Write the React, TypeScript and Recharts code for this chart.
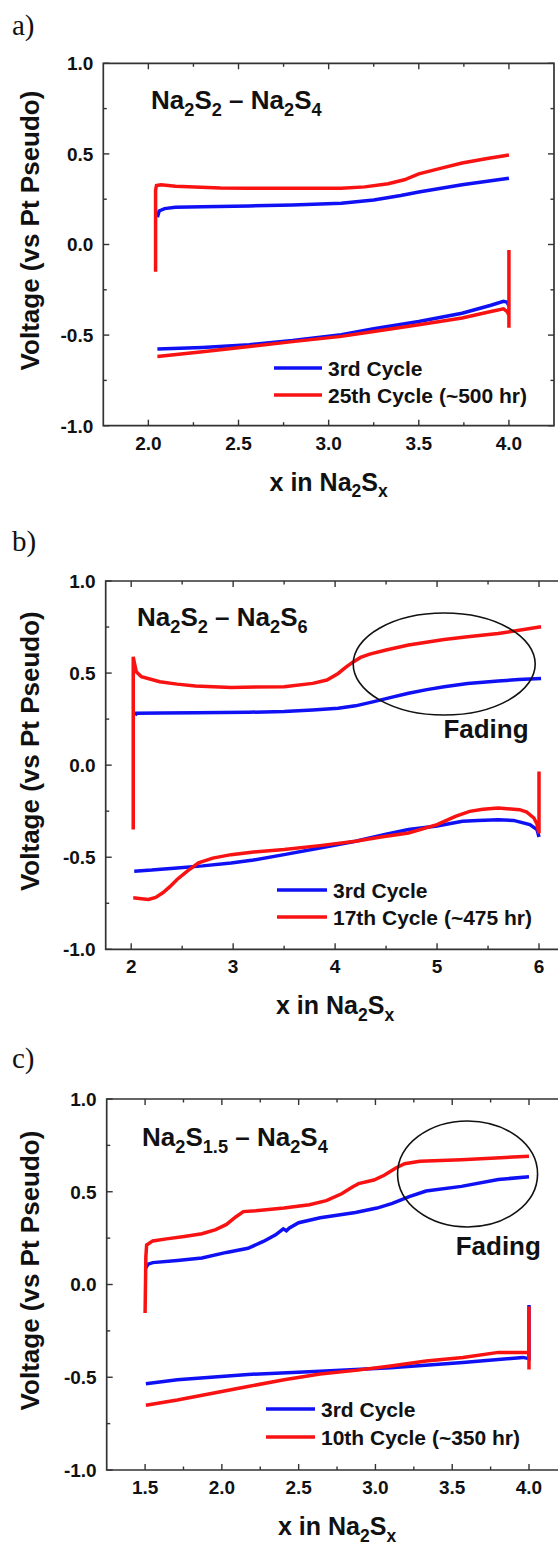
import React from 'react';
import { LineChart, Line, XAxis, YAxis, ReferenceDot, ReferenceArea, ReferenceLine } from 'recharts';

const FONT = '"Liberation Sans", Arial, Helvetica, sans-serif';
const SERIF = '"Liberation Serif", "Times New Roman", serif';
const BLUE = '#1010f5';
const RED = '#f81212';
const AXIS = '#333333';

type Pt = [number, number];

// panel a: Na2S2 - Na2S4
const aBlueCharge: Pt[] = [[2.05, 0.15], [2.06, 0.185], [2.09, 0.198], [2.15, 0.205], [2.3, 0.208], [2.56, 0.213], [2.8, 0.218], [3.07, 0.228], [3.25, 0.246], [3.4, 0.27], [3.5, 0.29], [3.74, 0.33], [3.9, 0.352], [4.0, 0.366]];
const aRedCharge: Pt[] = [[2.04, -0.15], [2.04, 0.3], [2.045, 0.325], [2.07, 0.33], [2.15, 0.322], [2.4, 0.312], [2.56, 0.31], [3.07, 0.31], [3.2, 0.318], [3.33, 0.335], [3.42, 0.357], [3.5, 0.39], [3.62, 0.42], [3.74, 0.45], [3.88, 0.475], [4.0, 0.494]];
const aBlueDis: Pt[] = [[4.0, -0.34], [3.99, -0.318], [3.97, -0.313], [3.9, -0.335], [3.74, -0.379], [3.5, -0.425], [3.25, -0.465], [3.07, -0.498], [2.8, -0.53], [2.56, -0.553], [2.3, -0.568], [2.05, -0.577]];
const aRedDis: Pt[] = [[4.0, -0.03], [4.0, -0.46], [4.0, -0.39], [3.99, -0.37], [3.97, -0.355], [3.9, -0.37], [3.74, -0.406], [3.5, -0.443], [3.25, -0.48], [3.07, -0.507], [2.8, -0.536], [2.56, -0.563], [2.3, -0.592], [2.05, -0.618]];

// panel b: Na2S2 - Na2S6
const bBlueCharge: Pt[] = [[2.04, 0.27], [2.05, 0.282], [2.3, 0.283], [2.63, 0.284], [3.15, 0.287], [3.5, 0.292], [3.78, 0.3], [4.03, 0.309], [4.2, 0.322], [4.38, 0.345], [4.55, 0.368], [4.72, 0.39], [4.9, 0.41], [5.07, 0.426], [5.3, 0.443], [5.6, 0.457], [5.8, 0.465], [6.02, 0.471]];
const bRedCharge: Pt[] = [[2.02, -0.35], [2.02, 0.588], [2.03, 0.56], [2.05, 0.507], [2.1, 0.48], [2.28, 0.453], [2.45, 0.44], [2.63, 0.43], [2.98, 0.422], [3.5, 0.426], [3.78, 0.444], [3.92, 0.462], [4.03, 0.498], [4.1, 0.53], [4.17, 0.558], [4.25, 0.585], [4.34, 0.603], [4.5, 0.625], [4.72, 0.652], [5.07, 0.682], [5.3, 0.697], [5.6, 0.715], [6.02, 0.751]];
const bBlueDis: Pt[] = [[6.0, -0.39], [5.98, -0.35], [5.91, -0.323], [5.75, -0.3], [5.6, -0.296], [5.4, -0.3], [5.25, -0.305], [5.0, -0.33], [4.72, -0.35], [4.5, -0.375], [4.2, -0.413], [3.85, -0.45], [3.5, -0.486], [3.2, -0.515], [2.98, -0.531], [2.7, -0.547], [2.45, -0.558], [2.2, -0.57], [2.03, -0.576]];
const bRedDis: Pt[] = [[6.0, -0.035], [6.0, -0.37], [5.98, -0.32], [5.95, -0.287], [5.88, -0.255], [5.81, -0.242], [5.6, -0.233], [5.45, -0.24], [5.32, -0.251], [5.18, -0.278], [5.0, -0.323], [4.72, -0.368], [4.45, -0.39], [4.2, -0.413], [3.85, -0.437], [3.5, -0.458], [3.2, -0.472], [2.98, -0.486], [2.8, -0.505], [2.66, -0.531], [2.55, -0.575], [2.45, -0.621], [2.38, -0.66], [2.31, -0.693], [2.24, -0.718], [2.17, -0.729], [2.1, -0.725], [2.02, -0.72]];

// panel c: Na2S1.5 - Na2S4
const cBlueCharge: Pt[] = [[1.505, 0.09], [1.52, 0.11], [1.55, 0.118], [1.71, 0.13], [1.87, 0.143], [2.03, 0.173], [2.17, 0.195], [2.27, 0.232], [2.35, 0.268], [2.4, 0.3], [2.42, 0.29], [2.44, 0.305], [2.5, 0.333], [2.64, 0.36], [2.87, 0.388], [3.01, 0.412], [3.11, 0.437], [3.22, 0.474], [3.33, 0.504], [3.56, 0.529], [3.8, 0.566], [4.0, 0.581]];
const cRedCharge: Pt[] = [[1.5, -0.154], [1.505, 0.15], [1.51, 0.213], [1.55, 0.235], [1.64, 0.246], [1.755, 0.259], [1.87, 0.274], [1.96, 0.296], [2.03, 0.324], [2.09, 0.364], [2.14, 0.393], [2.22, 0.397], [2.405, 0.412], [2.57, 0.43], [2.68, 0.452], [2.78, 0.489], [2.85, 0.526], [2.89, 0.544], [2.99, 0.563], [3.06, 0.59], [3.13, 0.627], [3.19, 0.651], [3.29, 0.664], [3.56, 0.673], [4.0, 0.691]];
const cBlueDis: Pt[] = [[4.0, -0.11], [4.0, -0.4], [3.96, -0.393], [3.57, -0.421], [3.1, -0.449], [2.64, -0.467], [2.17, -0.485], [1.71, -0.513], [1.505, -0.535]];
const cRedDis: Pt[] = [[4.0, -0.118], [4.0, -0.458], [4.0, -0.37], [3.98, -0.366], [3.8, -0.366], [3.57, -0.393], [3.33, -0.412], [3.1, -0.439], [2.87, -0.463], [2.64, -0.482], [2.405, -0.513], [2.17, -0.55], [1.94, -0.586], [1.71, -0.623], [1.505, -0.651]];

const yTicks = [-1, -0.75, -0.5, -0.25, 0, 0.25, 0.5, 0.75, 1];
const yMajor = [-1, -0.5, 0, 0.5, 1];
const aTicks = [2, 2.25, 2.5, 2.75, 3, 3.25, 3.5, 3.75, 4];
const aMajor = [2, 2.5, 3, 3.5, 4];
const bTicks = [2, 2.5, 3, 3.5, 4, 4.5, 5, 5.5, 6];
const bMajor = [2, 3, 4, 5, 6];
const cTicks = [1.5, 1.75, 2, 2.25, 2.5, 2.75, 3, 3.25, 3.5, 3.75, 4];
const cMajor = [1.5, 2, 2.5, 3, 3.5, 4];

const legendA = ['3rd Cycle', '25th Cycle (~500 hr)'];
const legendB = ['3rd Cycle', '17th Cycle (~475 hr)'];
const legendC = ['3rd Cycle', '10th Cycle (~350 hr)'];

const toRows = (pts: Pt[]) => pts.map(([x, y]) => ({ x, y }));
const fmt1 = (v: number) => v.toFixed(1);
const fmt0 = (v: number) => String(v);

type Part = [string, boolean?];
function Sub({ parts, size }: { parts: Part[]; size: number }) {
  const shift = size * 0.26;
  let down = false;
  return (
    <>
      {parts.map(([t, sub], i) => {
        let dy = 0;
        if (sub && !down) { dy = shift; down = true; }
        else if (!sub && down) { dy = -shift; down = false; }
        return (
          <tspan key={i} dy={dy} fontSize={sub ? size * 0.7 : size}>{t}</tspan>
        );
      })}
    </>
  );
}

interface Plot { l: number; t: number; r: number; b: number }
interface Fade { cx: number; cy: number; rx: number; ry: number; tx: number; ty: number }

interface PanelProps {
  top: number;
  height: number;
  plot: Plot;
  domain: [number, number];
  xTicks: number[];
  xMajor: number[];
  xFmt: (v: number) => string;
  blue: Pt[][];
  red: Pt[][];
  fade?: Fade;
}

function Panel({ top, height, plot, domain, xTicks, xMajor, xFmt, blue, red, fade }: PanelProps) {
  const margin = { top: plot.t - top, left: plot.l - 60, right: 4, bottom: height - (plot.b - top) - 30 };
  const tickText = { fontFamily: FONT, fontWeight: 700, fontSize: 19, fill: '#111' };
  // tick lengths (6px major, 3.5px minor) expressed in data units
  const yPerPx = 2 / (plot.b - plot.t);
  const xPerPx = (domain[1] - domain[0]) / (plot.r - plot.l);
  const tickStroke = { stroke: AXIS, strokeWidth: 1.4, ifOverflow: 'visible' as const };

  const bottomTick = (p: any) => (
    <text x={p.x} y={p.y + 24} textAnchor="middle" {...tickText}>{xFmt(p.payload.value)}</text>
  );
  const leftTick = (p: any) => (
    <text x={p.x - 10} y={p.y} dy="0.36em" textAnchor="end" {...tickText}>{fmt1(p.payload.value)}</text>
  );

  return (
    <div style={{ position: 'absolute', left: 0, top }}>
      <LineChart width={plot.r + 4} height={height} margin={margin}>
        <XAxis dataKey="x" type="number" domain={domain} allowDataOverflow ticks={xMajor} interval={0}
          tickSize={0} tickMargin={0} height={30} axisLine={false} tickLine={false} tick={bottomTick} />
        <YAxis type="number" domain={[-1, 1]} ticks={yMajor} interval={0} width={60}
          tickSize={0} tickMargin={0} axisLine={false} tickLine={false} tick={leftTick} />
        <ReferenceArea x1={domain[0]} x2={domain[1]} y1={-1} y2={1} fill="none" fillOpacity={0}
          stroke={AXIS} strokeWidth={1.7} ifOverflow="visible" />
        {xTicks.map((v) => {
          const len = (xMajor.includes(v) ? 6 : 3.5) * yPerPx;
          return (
            <React.Fragment key={'xt' + v}>
              <ReferenceLine segment={[{ x: v, y: -1 }, { x: v, y: -1 + len }]} {...tickStroke} />
              <ReferenceLine segment={[{ x: v, y: 1 }, { x: v, y: 1 - len }]} {...tickStroke} />
            </React.Fragment>
          );
        })}
        {yTicks.map((v) => {
          const len = (yMajor.includes(v) ? 6 : 3.5) * xPerPx;
          return (
            <React.Fragment key={'yt' + v}>
              <ReferenceLine segment={[{ x: domain[0], y: v }, { x: domain[0] + len, y: v }]} {...tickStroke} />
              <ReferenceLine segment={[{ x: domain[1], y: v }, { x: domain[1] - len, y: v }]} {...tickStroke} />
            </React.Fragment>
          );
        })}
        {blue.map((s, i) => (
          <Line key={'b' + i} data={toRows(s)} dataKey="y" type="linear" stroke={BLUE} strokeWidth={3.5}
            dot={false} activeDot={false} isAnimationActive={false} />
        ))}
        {red.map((s, i) => (
          <Line key={'r' + i} data={toRows(s)} dataKey="y" type="linear" stroke={RED} strokeWidth={3.5}
            dot={false} activeDot={false} isAnimationActive={false} />
        ))}
        {fade && (
          <ReferenceDot x={fade.cx} y={fade.cy} r={1}
            shape={(p: any) => <ellipse cx={p.cx} cy={p.cy} rx={fade.rx} ry={fade.ry} fill="none" stroke="#111" strokeWidth={1.6} />} />
        )}
        {fade && (
          <ReferenceDot x={fade.tx} y={fade.ty} r={1}
            shape={(p: any) => (
              <text x={p.cx} y={p.cy} textAnchor="middle" fontFamily={FONT} fontWeight={700} fontSize={26} fill="#111">Fading</text>
            )} />
        )}
      </LineChart>
    </div>
  );
}

interface LabelSet {
  letter: string;
  letterY: number;
  title: Part[];
  titleX: number;
  titleY: number;
  plot: Plot;
  legend: string[];
  legendX: [number, number];
  legendY: [number, number];
}

function Labels({ s }: { s: LabelSet }) {
  const cx = (s.plot.l + s.plot.r) / 2;
  const cy = (s.plot.t + s.plot.b) / 2 - 14;
  const txt = { fontFamily: FONT, fontWeight: 700, fill: '#111' };
  return (
    <g>
      <text x={12} y={s.letterY} fontFamily={SERIF} fontSize={29} fill="#111">{s.letter}</text>
      <text x={s.titleX} y={s.titleY} {...txt}><Sub parts={s.title} size={26} /></text>
      <text x={0} y={0} transform={`translate(30 ${cy}) rotate(-90)`} textAnchor="middle" dy="0.36em" fontSize={26} {...txt}>
        Voltage (vs Pt Pseudo)
      </text>
      <text x={cx} y={s.plot.b + 65} textAnchor="middle" {...txt}>
        <Sub parts={[['x in Na'], ['2', true], ['S'], ['x', true]]} size={25} />
      </text>
      {s.legend.map((name, i) => (
        <g key={name}>
          <line x1={s.legendX[0]} x2={s.legendX[1]} y1={s.legendY[i]} y2={s.legendY[i]} stroke={i === 0 ? BLUE : RED} strokeWidth={3.5} />
          <text x={s.legendX[1] + 6} y={s.legendY[i]} dy="0.36em" fontSize={21} {...txt}>{name}</text>
        </g>
      ))}
    </g>
  );
}

const plotA: Plot = { l: 103.3, t: 63.3, r: 554, b: 425.7 };
const plotB: Plot = { l: 105.7, t: 581, r: 564.5, b: 949.3 };
const plotC: Plot = { l: 106.7, t: 1099, r: 567.4, b: 1470 };

const labelSets: LabelSet[] = [
  { letter: 'a)', letterY: 35, title: [['Na'], ['2', true], ['S'], ['2', true], [' – Na'], ['2', true], ['S'], ['4', true]], titleX: 151, titleY: 109, plot: plotA, legend: legendA, legendX: [274, 322], legendY: [368, 395] },
  { letter: 'b)', letterY: 551, title: [['Na'], ['2', true], ['S'], ['2', true], [' – Na'], ['2', true], ['S'], ['6', true]], titleX: 137, titleY: 626, plot: plotB, legend: legendB, legendX: [277, 327], legendY: [890, 917] },
  { letter: 'c)', letterY: 1068, title: [['Na'], ['2', true], ['S'], ['1.5', true], [' – Na'], ['2', true], ['S'], ['4', true]], titleX: 142, titleY: 1146, plot: plotC, legend: legendC, legendX: [266, 315], legendY: [1409, 1437] },
];

export default function App() {
  return (
    <div style={{ position: 'absolute', left: 0, top: 0, width: 558, height: 1544, overflow: 'hidden', background: '#fff' }}>
      <Panel top={0} height={515} plot={plotA} domain={[1.75, 4.25]} xTicks={aTicks} xMajor={aMajor} xFmt={fmt1}
        blue={[aBlueCharge, aBlueDis]} red={[aRedCharge, aRedDis]} />
      <Panel top={515} height={515} plot={plotB} domain={[1.75, 6.25]} xTicks={bTicks} xMajor={bMajor} xFmt={fmt0}
        blue={[bBlueCharge, bBlueDis]} red={[bRedCharge, bRedDis]}
        fade={{ cx: 5.07, cy: 0.549, rx: 91, ry: 51, tx: 5.48, ty: 0.146 }} />
      <Panel top={1030} height={514} plot={plotC} domain={[1.25, 4.25]} xTicks={cTicks} xMajor={cMajor} xFmt={fmt1}
        blue={[cBlueCharge, cBlueDis]} red={[cRedCharge, cRedDis]}
        fade={{ cx: 3.6, cy: 0.596, rx: 70, ry: 53, tx: 3.8, ty: 0.159 }} />
      <svg width={558} height={1544} style={{ position: 'absolute', left: 0, top: 0, pointerEvents: 'none' }}>
        {labelSets.map((s) => <Labels key={s.letter} s={s} />)}
      </svg>
    </div>
  );
}
